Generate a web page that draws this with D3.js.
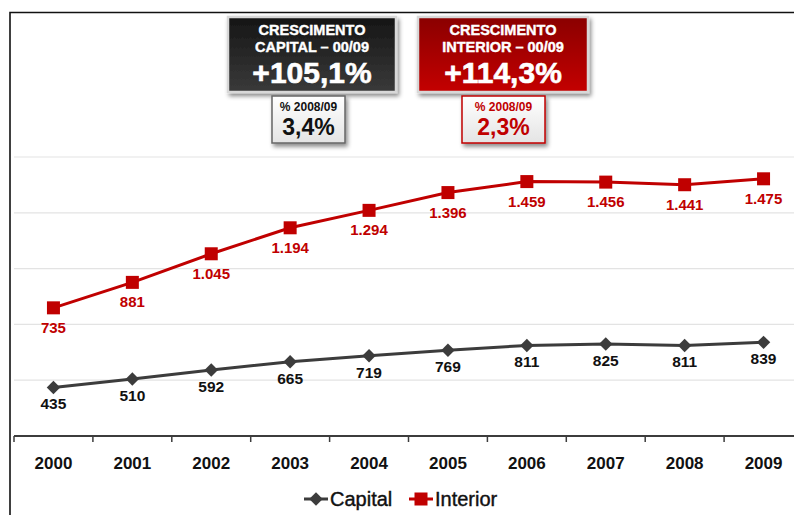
<!DOCTYPE html>
<html>
<head>
<meta charset="utf-8">
<script src="https://cdn.jsdelivr.net/npm/d3@7"></script>
<style>
  body { margin: 0; background: #fff; }
  svg { display: block; font-family: "Liberation Sans", Arial, sans-serif; }
</style>
</head>
<body>
<div id="wrapper"></div>
<script>
const years = ["2000", "2001", "2002", "2003", "2004", "2005", "2006", "2007", "2008", "2009"];
const capital = [435, 510, 592, 665, 719, 769, 811, 825, 811, 839];
const interior = [735, 881, 1045, 1194, 1294, 1396, 1459, 1456, 1441, 1475];
const seriesNames = ["Capital", "Interior"];
const boxTitles = [["CRESCIMENTO", "CAPITAL – 00/09"], ["CRESCIMENTO", "INTERIOR – 00/09"]];
const boxValues = ["+105,1%", "+114,3%"];
const smallTitle = "% 2008/09";
const smallValues = ["3,4%", "2,3%"];

const width = 794;
const height = 515;
const red = "#c00000";
const dark = "#3c3c3c";

const fmt = v => v >= 1000 ? d3.format(",")(v).replace(",", ".") : String(v);

const svg = d3.select("#wrapper").append("svg")
  .attr("width", width)
  .attr("height", height);

const defs = svg.append("defs");
const shadow = defs.append("filter").attr("id", "shadow")
  .attr("x", "-10%").attr("y", "-10%").attr("width", "130%").attr("height", "140%");
shadow.append("feDropShadow").attr("dx", 2).attr("dy", 3).attr("stdDeviation", 2)
  .attr("flood-color", "#000").attr("flood-opacity", 0.45);

const gDark = defs.append("linearGradient").attr("id", "gDark").attr("x1", 0).attr("y1", 0).attr("x2", 0).attr("y2", 1);
gDark.append("stop").attr("offset", "0%").attr("stop-color", "#151515");
gDark.append("stop").attr("offset", "100%").attr("stop-color", "#3a3a3a");
const gRed = defs.append("linearGradient").attr("id", "gRed").attr("x1", 0).attr("y1", 0).attr("x2", 0).attr("y2", 1);
gRed.append("stop").attr("offset", "0%").attr("stop-color", "#8a0000");
gRed.append("stop").attr("offset", "100%").attr("stop-color", "#c40000");
const gWhite = defs.append("linearGradient").attr("id", "gWhite").attr("x1", 0).attr("y1", 0).attr("x2", 0).attr("y2", 1);
gWhite.append("stop").attr("offset", "0%").attr("stop-color", "#ffffff");
gWhite.append("stop").attr("offset", "100%").attr("stop-color", "#e4e4e4");

// frame
svg.append("path")
  .attr("d", "M10,515V12.5H794")
  .attr("fill", "none")
  .attr("stroke", "#111")
  .attr("stroke-width", 1.6);

const x = d3.scaleBand().domain(years).range([14, 803]);
const yCap = d3.scaleLinear().domain([0, 2500]).range([436, 157]);
const yInt = d3.scaleLinear().domain([0, 1600]).range([436, 157]);

// gridlines
svg.append("g")
  .selectAll("line")
  .data(yCap.ticks(5).filter(d => d > 0))
  .join("line")
  .attr("x1", 14)
  .attr("x2", width)
  .attr("y1", d => yCap(d))
  .attr("y2", d => yCap(d))
  .attr("stroke", "#e3e3e3")
  .attr("stroke-width", 1.2);

// x axis
const axis = svg.append("g");
axis.append("line")
  .attr("x1", 14).attr("x2", width)
  .attr("y1", 436).attr("y2", 436)
  .attr("stroke", dark).attr("stroke-width", 2);
axis.selectAll(".tick")
  .data(years)
  .join("line")
  .attr("class", "tick")
  .attr("x1", d => x(d)).attr("x2", d => x(d))
  .attr("y1", 436).attr("y2", 442)
  .attr("stroke", dark).attr("stroke-width", 1.5);
axis.selectAll("text")
  .data(years)
  .join("text")
  .attr("x", d => x(d) + x.bandwidth() / 2)
  .attr("y", 469)
  .attr("text-anchor", "middle")
  .attr("font-size", 17)
  .attr("font-weight", "bold")
  .attr("fill", "#111")
  .text(d => d);

const cx = i => x(years[i]) + x.bandwidth() / 2;
const diamond = d3.symbol(d3.symbolDiamond2, 115);

// capital line
const capData = capital.map((v, i) => ({ v, i }));
svg.append("path")
  .datum(capData)
  .attr("fill", "none")
  .attr("stroke", dark)
  .attr("stroke-width", 3)
  .attr("d", d3.line().x(d => cx(d.i)).y(d => yCap(d.v)));
svg.append("g")
  .selectAll("path")
  .data(capData)
  .join("path")
  .attr("d", diamond)
  .attr("transform", d => `translate(${cx(d.i)},${yCap(d.v)})`)
  .attr("fill", dark);
svg.append("g")
  .selectAll("text")
  .data(capData)
  .join("text")
  .attr("x", d => cx(d.i))
  .attr("y", d => yCap(d.v) + 22)
  .attr("text-anchor", "middle")
  .attr("font-size", 15.5)
  .attr("font-weight", "bold")
  .attr("fill", "#111")
  .text(d => fmt(d.v));

// interior line
const intData = interior.map((v, i) => ({ v, i }));
svg.append("path")
  .datum(intData)
  .attr("fill", "none")
  .attr("stroke", red)
  .attr("stroke-width", 3)
  .attr("d", d3.line().x(d => cx(d.i)).y(d => yInt(d.v)));
svg.append("g")
  .selectAll("rect")
  .data(intData)
  .join("rect")
  .attr("x", d => cx(d.i) - 6.5)
  .attr("y", d => yInt(d.v) - 6.5)
  .attr("width", 13)
  .attr("height", 13)
  .attr("fill", red);
svg.append("g")
  .selectAll("text")
  .data(intData)
  .join("text")
  .attr("x", d => cx(d.i))
  .attr("y", d => yInt(d.v) + 25)
  .attr("text-anchor", "middle")
  .attr("font-size", 15)
  .attr("font-weight", "bold")
  .attr("fill", red)
  .text(d => fmt(d.v));

// growth boxes
const boxes = [
  { x: 228, w: 168, fill: "url(#gDark)", sx: 272, sw: 73, stroke: "#666", color: "#111" },
  { x: 418, w: 170, fill: "url(#gRed)", sx: 462, sw: 83, stroke: red, color: red }
];
boxes.forEach((b, k) => {
  const g = svg.append("g");
  g.append("rect")
    .attr("x", b.x).attr("y", 17).attr("width", b.w).attr("height", 75)
    .attr("fill", b.fill)
    .attr("stroke", "#d8d8d8").attr("stroke-width", 2.5)
    .attr("filter", "url(#shadow)");
  boxTitles[k].forEach((t, j) => {
    g.append("text")
      .attr("x", b.x + b.w / 2).attr("y", 35 + j * 17)
      .attr("text-anchor", "middle")
      .attr("font-size", 14.5).attr("font-weight", "bold")
      .attr("fill", "#fff")
      .attr("stroke", "#fff").attr("stroke-width", 0.4)
      .text(t);
  });
  g.append("text")
    .attr("x", b.x + b.w / 2).attr("y", 83)
    .attr("text-anchor", "middle")
    .attr("font-size", 30).attr("font-weight", "bold")
    .attr("fill", "#fff")
    .attr("stroke", "#fff").attr("stroke-width", 0.6)
    .text(boxValues[k]);

  g.append("rect")
    .attr("x", b.sx).attr("y", 96).attr("width", b.sw).attr("height", 47)
    .attr("fill", "url(#gWhite)")
    .attr("stroke", b.stroke).attr("stroke-width", 1.5)
    .attr("filter", "url(#shadow)");
  g.append("text")
    .attr("x", b.sx + b.sw / 2).attr("y", 111)
    .attr("text-anchor", "middle")
    .attr("font-size", 12).attr("font-weight", "bold")
    .attr("fill", b.color)
    .text(smallTitle);
  g.append("text")
    .attr("x", b.sx + b.sw / 2).attr("y", 135)
    .attr("text-anchor", "middle")
    .attr("font-size", 23).attr("font-weight", "bold")
    .attr("fill", b.color)
    .text(smallValues[k]);
});

// legend
const legend = svg.append("g").attr("transform", "translate(304, 499)");
const items = [
  { name: seriesNames[0], color: dark, shape: "diamond", x: 0 },
  { name: seriesNames[1], color: red, shape: "square", x: 105 }
];
items.forEach(it => {
  const g = legend.append("g").attr("transform", `translate(${it.x},0)`);
  g.append("line").attr("x1", 0).attr("x2", 24).attr("y1", 0).attr("y2", 0)
    .attr("stroke", it.color).attr("stroke-width", 3);
  if (it.shape === "diamond") {
    g.append("path").attr("d", diamond)
      .attr("transform", "translate(12,0)").attr("fill", it.color);
  } else {
    g.append("rect").attr("x", 5.5).attr("y", -6.5).attr("width", 13).attr("height", 13)
      .attr("fill", it.color);
  }
  g.append("text")
    .attr("x", 26).attr("y", 7)
    .attr("font-size", 20)
    .attr("fill", "#111")
    .attr("stroke", "#111").attr("stroke-width", 0.4)
    .text(it.name);
});
</script>
</body>
</html>
